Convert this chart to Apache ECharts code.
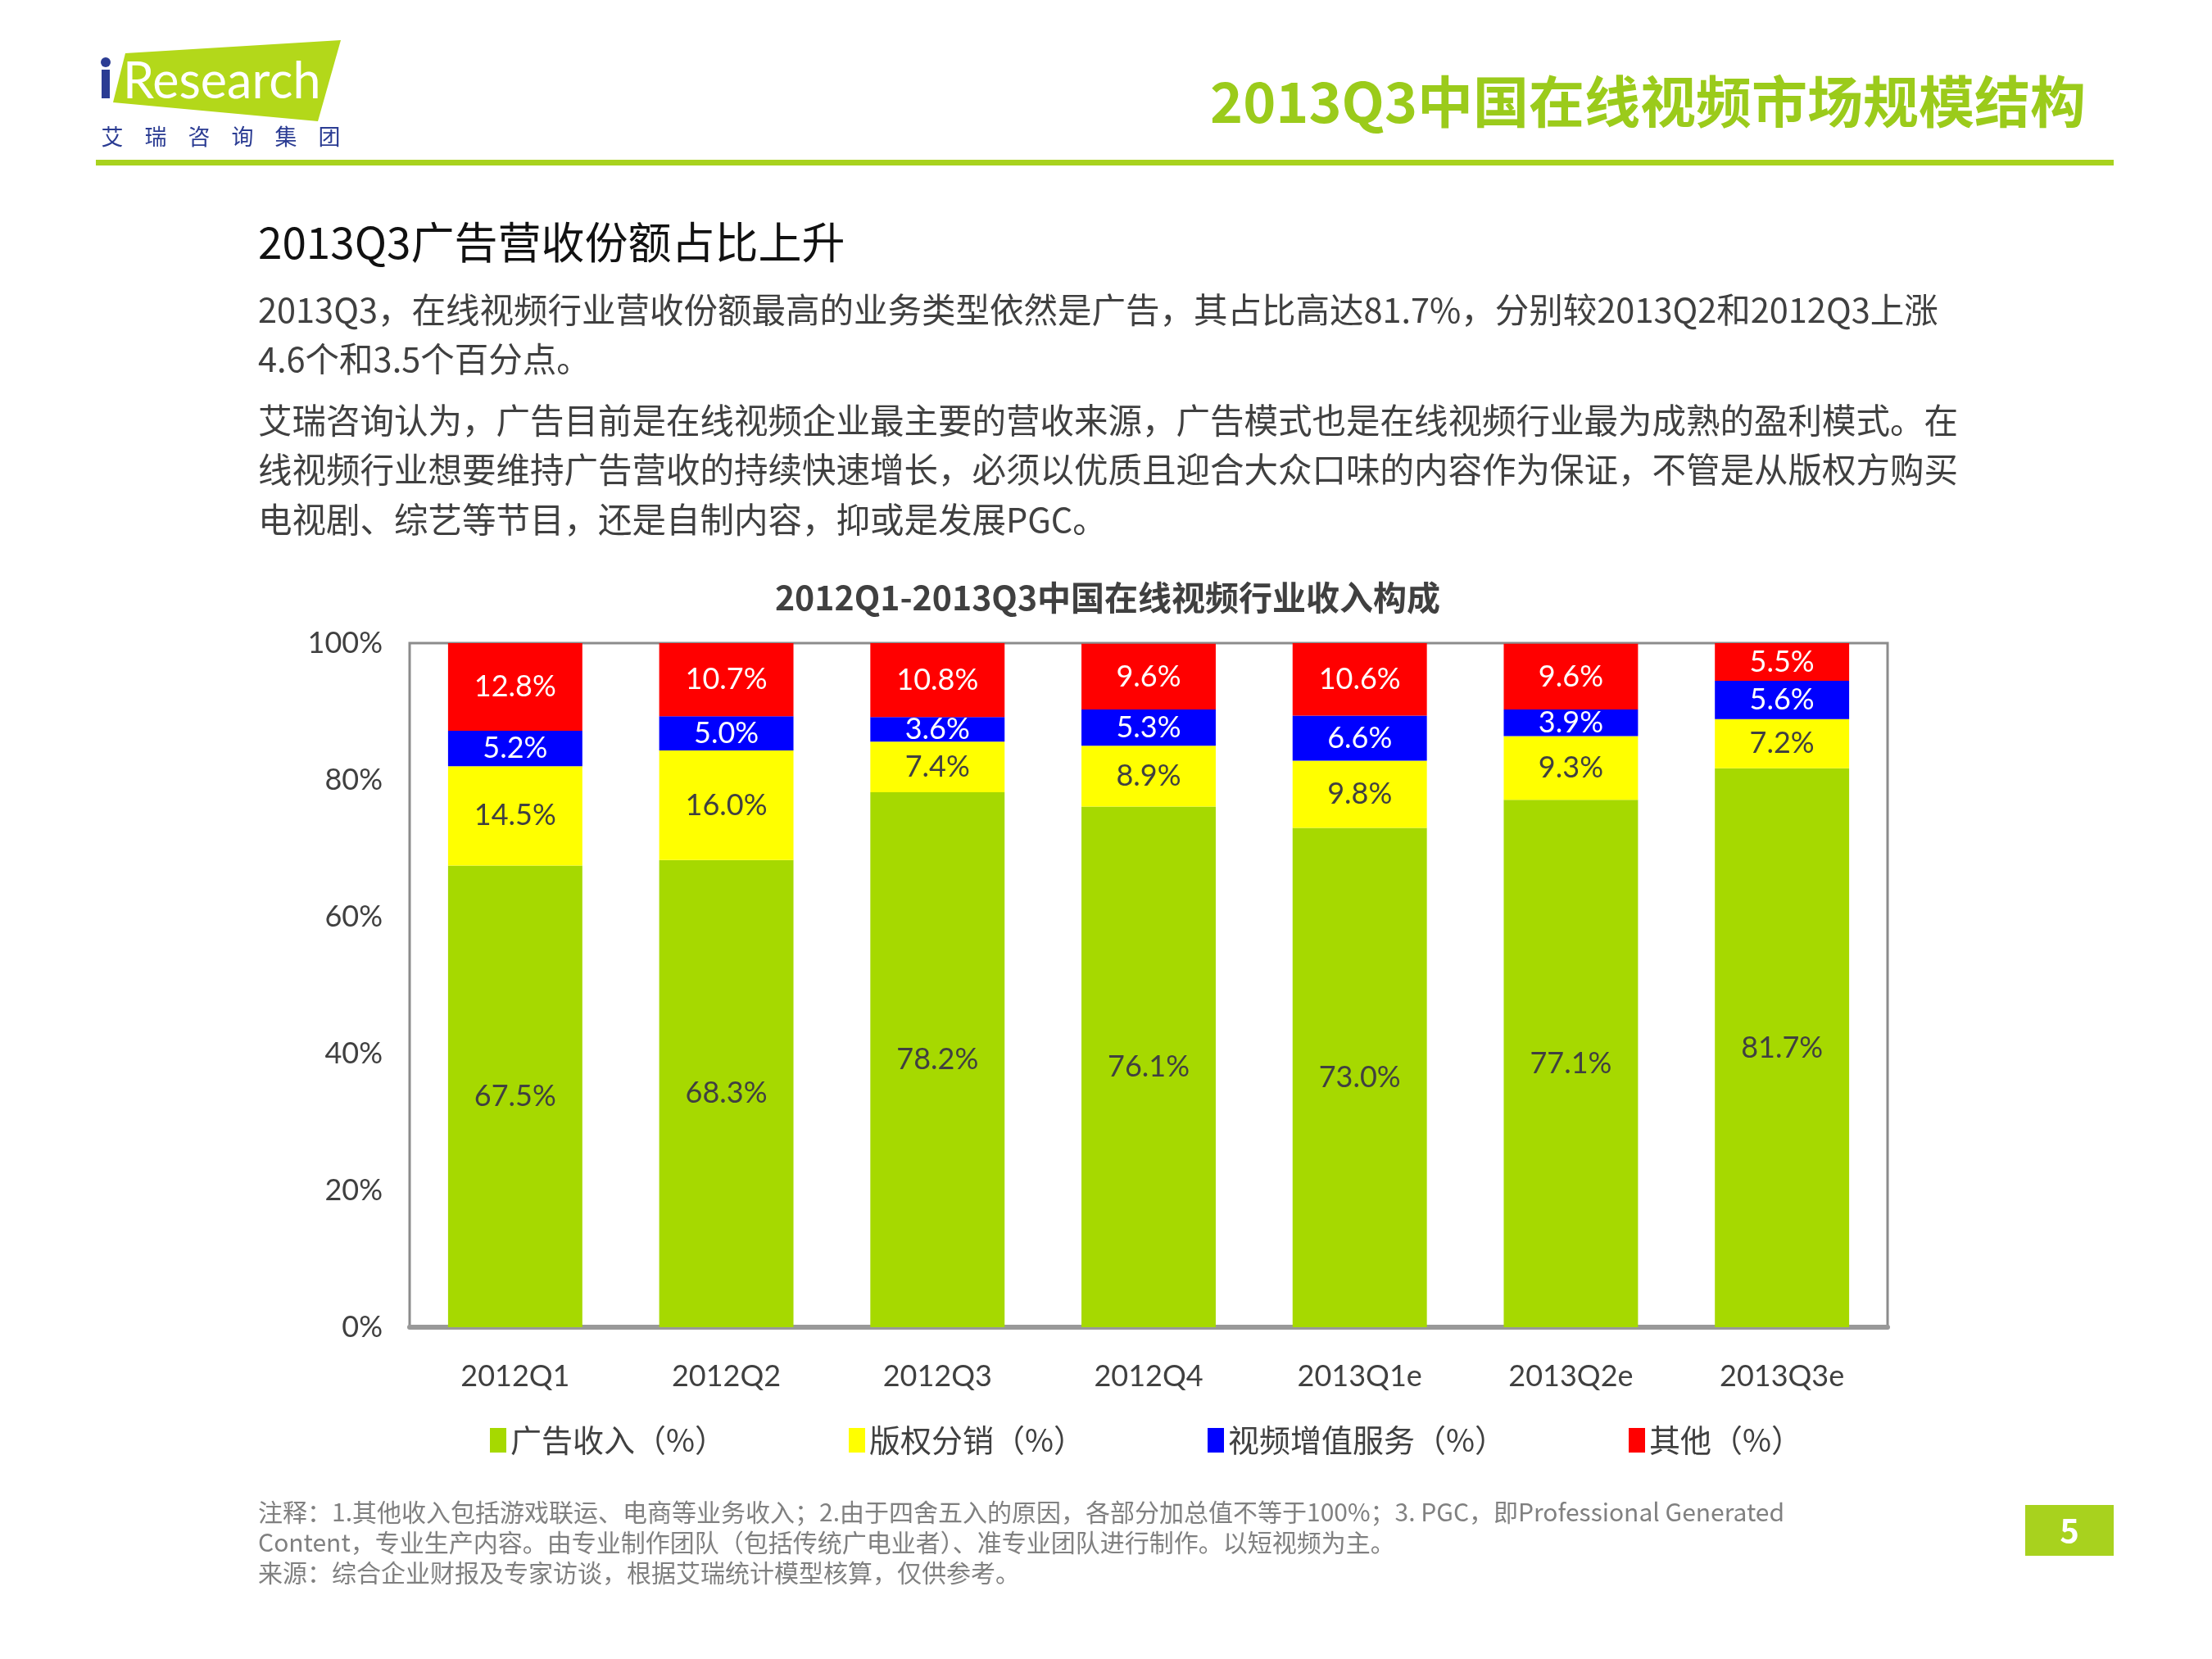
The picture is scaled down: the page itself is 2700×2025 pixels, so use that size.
<!DOCTYPE html>
<html>
<head>
<meta charset="utf-8">
<script src="https://cdn.jsdelivr.net/npm/echarts/dist/echarts.min.js"></script>
<style>
html,body{margin:0;padding:0;background:#fff;}
#chart{width:2700px;height:2025px;}
</style>
</head>
<body>
<div id="chart"></div>
<script>
// ---- data ----
const categories = ['2012Q1','2012Q2','2012Q3','2012Q4','2013Q1e','2013Q2e','2013Q3e'];
const seriesNames = ['广告收入（%）','版权分销（%）','视频增值服务（%）','其他（%）'];
const adRevenue   = [67.5, 68.3, 78.2, 76.1, 73.0, 77.1, 81.7];
const copyright   = [14.5, 16.0, 7.4, 8.9, 9.8, 9.3, 7.2];
const valueAdded  = [5.2, 5.0, 3.6, 5.3, 6.6, 3.9, 5.6];
const others      = [12.8, 10.7, 10.8, 9.6, 10.6, 9.6, 5.5];
const yTicks = [0, 20, 40, 60, 80, 100];

const pageTitle = '2013Q3中国在线视频市场规模结构';
const subTitle = '2013Q3广告营收份额占比上升';
const para1 = ['2013Q3，在线视频行业营收份额最高的业务类型依然是广告，其占比高达81.7%，分别较2013Q2和2012Q3上涨',
               '4.6个和3.5个百分点。'];
const para2 = ['艾瑞咨询认为，广告目前是在线视频企业最主要的营收来源，广告模式也是在线视频行业最为成熟的盈利模式。在',
               '线视频行业想要维持广告营收的持续快速增长，必须以优质且迎合大众口味的内容作为保证，不管是从版权方购买',
               '电视剧、综艺等节目，还是自制内容，抑或是发展PGC。'];
const chartTitle = '2012Q1-2013Q3中国在线视频行业收入构成';
const notes = ['注释：1.其他收入包括游戏联运、电商等业务收入；2.由于四舍五入的原因，各部分加总值不等于100%；3. PGC，即Professional Generated',
               'Content，专业生产内容。由专业制作团队（包括传统广电业者）、准专业团队进行制作。以短视频为主。',
               '来源：综合企业财报及专家访谈，根据艾瑞统计模型核算，仅供参考。'];
const logoChars = ['艾','瑞','咨','询','集','团'];

// ---- styles ----
const FONT = '"Noto Sans CJK SC", "Noto Sans", sans-serif';
const LATIN = 'Lato, "Noto Sans CJK SC", sans-serif';
const colors = ['#A6D900', '#FFFF00', '#0000FF', '#FF0000'];
const labelColors = ['#404040', '#404040', '#FFFFFF', '#FFFFFF'];
const GREEN = '#A8D21E';

const chart = echarts.init(document.getElementById('chart'));

function txt(text, x, y, size, fill, opts) {
  opts = opts || {};
  return {
    type: 'text', x: x, y: y, silent: true,
    style: {
      text: text, fontSize: size, fill: fill,
      fontFamily: opts.family || FONT,
      fontWeight: opts.weight || 'normal',
      textAlign: opts.align || 'left',
      textVerticalAlign: 'middle'
    }
  };
}

const graphics = [];
// logo
graphics.push({ type: 'polygon', silent: true,
  shape: { points: [[153, 65], [416, 49], [388, 148], [138, 125]] },
  style: { fill: '#B3D81A' } });
graphics.push({ type: 'circle', silent: true, shape: { cx: 129, cy: 76, r: 6 }, style: { fill: '#2B3C93' } });
graphics.push({ type: 'rect', silent: true, shape: { x: 124, y: 85, width: 10, height: 35 }, style: { fill: '#2B3C93' } });
graphics.push(txt('Research', 150, 100, 61, '#FFFFFF', { family: 'Lato, sans-serif' }));
logoChars.forEach((c, i) => graphics.push(txt(c, 137 + i * 53, 167, 27, '#2B3C93', { align: 'center' })));
// header
graphics.push(txt(pageTitle, 2546, 124, 68, '#9BCB1B', { align: 'right', weight: 'bold' }));
graphics.push({ type: 'rect', silent: true, shape: { x: 117, y: 195, width: 2463, height: 7 }, style: { fill: GREEN } });
// subheading + paragraphs
graphics.push(txt(subTitle, 315, 296, 53, '#111111'));
para1.forEach((l, i) => graphics.push(txt(l, 315, 378 + i * 60.5, 41.5, '#404040')));
para2.forEach((l, i) => graphics.push(txt(l, 315, 513 + i * 60.5, 41.5, '#404040')));
// footnotes
notes.forEach((l, i) => graphics.push(txt(l, 315, 1846 + i * 37, 30, '#808080')));
// page number
graphics.push({ type: 'rect', silent: true, shape: { x: 2472, y: 1837, width: 108, height: 62 }, style: { fill: GREEN } });
graphics.push(txt('5', 2526, 1868, 40, '#FFFFFF', { align: 'center', weight: 'bold' }));

const dataSets = [adRevenue, copyright, valueAdded, others];

const option = {
  backgroundColor: '#FFFFFF',
  animation: false,
  title: {
    text: chartTitle, left: 1347, top: 704, textAlign: 'center',
    textStyle: { fontSize: 41, fontWeight: 'bold', color: '#404040', fontFamily: FONT }
  },
  legend: {
    data: seriesNames, left: 593, top: 1734,
    icon: 'rect', itemWidth: 20, itemHeight: 30, itemGap: 150,
    textStyle: { fontSize: 38, color: '#404040', fontFamily: FONT, padding: [0, 0, 0, 0] }
  },
  grid: {
    left: 500, right: 396, top: 785, bottom: 405,
    show: true, borderColor: '#8C8C8C', borderWidth: 3, backgroundColor: 'transparent'
  },
  xAxis: {
    type: 'category', data: categories,
    axisLine: { show: true, lineStyle: { color: '#999999', width: 6 } },
    axisTick: { show: false },
    axisLabel: { fontSize: 36, color: '#404040', margin: 42, fontFamily: LATIN }
  },
  yAxis: {
    type: 'value', min: yTicks[0], max: yTicks[yTicks.length - 1], interval: 20,
    axisLine: { show: false }, axisTick: { show: false }, splitLine: { show: false },
    axisLabel: { fontSize: 36, color: '#404040', margin: 33, formatter: '{value}%', fontFamily: LATIN }
  },
  series: dataSets.map((d, i) => ({
    name: seriesNames[i], type: 'bar', stack: 'total', data: d,
    barWidth: '63.6%',
    itemStyle: { color: colors[i] },
    label: {
      show: true, position: 'inside', fontSize: 36, color: labelColors[i], fontFamily: LATIN,
      formatter: p => p.value.toFixed(1) + '%'
    }
  })),
  graphic: graphics
};
chart.setOption(option);
</script>
</body>
</html>
